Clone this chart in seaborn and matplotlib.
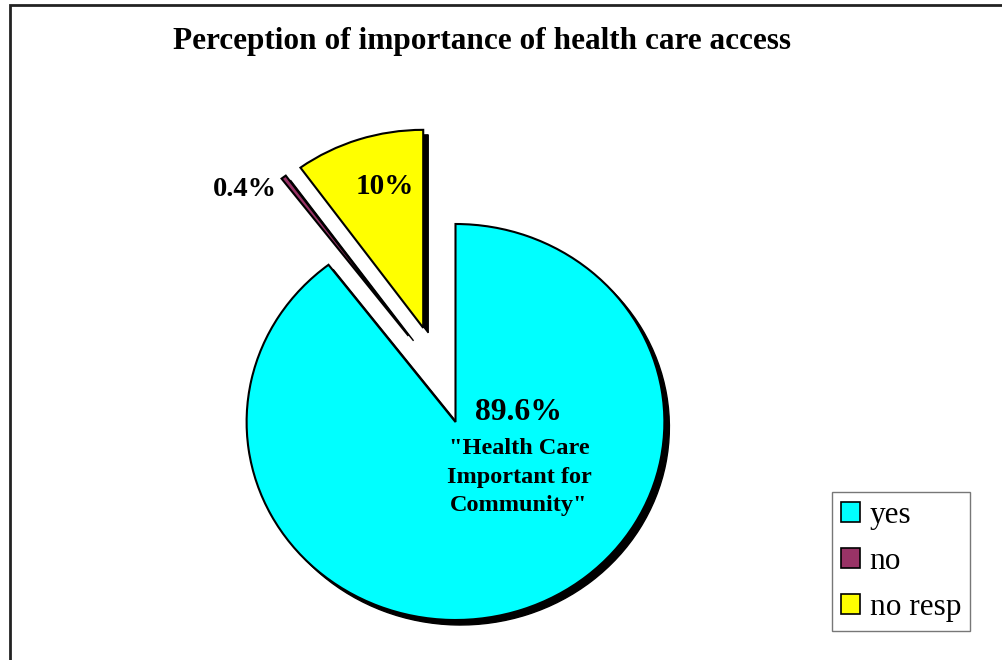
import matplotlib
matplotlib.use('Agg')
import matplotlib.pyplot as plt
import seaborn as sns
from matplotlib.patches import Rectangle

categories = ['yes', 'no', 'no resp']
values = [89.6, 0.4, 10.0]
pct_labels = ['89.6%', '0.4%', '10%']
colors = ['#00FFFF', '#993366', '#FFFF00']
explode_frac = [0, 0.48, 0.5]
title = 'Perception of importance of health care access'
yes_note = '"Health Care\nImportant for\nCommunity"'

sns.set_theme(style='white')
plt.rcParams['font.family'] = ['Liberation Serif', 'DejaVu Serif']
plt.rcParams['text.color'] = 'black'

W, H = 1002, 660
fig = plt.figure(figsize=(W / 100, H / 100), dpi=100)
ax = fig.add_axes([0, 0, 1, 1])
SX = 1.055


def P(x, y):
    return (x / SX, H - y)


cx, cy = P(455.5, 422)
R = 198
explode = [e * R for e in explode_frac]
# small sideways nudge of the thin "no" slice (pixels), as in the original layout
nudge = {1: (13.0, -10.0)}

# shadow
shadow, _ = ax.pie(values, explode=explode, colors=['black'] * 3, startangle=90,
                   counterclock=False, radius=R, center=(cx + 5 / SX, cy - 5),
                   wedgeprops=dict(edgecolor='black', linewidth=1.0))
wedges, _ = ax.pie(values, explode=explode, colors=colors, startangle=90,
                   counterclock=False, radius=R, center=(cx, cy),
                   wedgeprops=dict(edgecolor='black', linewidth=1.5))
for i, (dx, dy) in nudge.items():
    for w in (shadow[i], wedges[i]):
        x0, y0 = w.center
        w.set_center((x0 + dx / SX, y0 - dy))

ax.set_aspect('auto')
ax.set_xlim(0, W / SX)
ax.set_ylim(0, H)
ax.axis('off')

bold = dict(ha='center', va='center', weight='bold', color='black')
ax.text(*P(519, 412), pct_labels[0], fontsize=22.8, **bold)
ax.text(*P(519, 477), yes_note, fontsize=17.5, linespacing=1.5, **bold)
ax.text(*P(245, 190), pct_labels[1], fontsize=20.5, **bold)
ax.text(*P(385, 186), pct_labels[2], fontsize=21, **bold)

fig.text(482 / W, 1 - 41 / H, title, ha='center', va='center',
         fontsize=22.5, weight='bold', color='black')

fig.add_artist(Rectangle((10 / W, -0.1), 1.2, 1.1 - 5 / H,
                         transform=fig.transFigure, fill=False,
                         lw=2, edgecolor='#222222'))

leg = ax.legend(wedges, categories, loc='upper left',
                bbox_to_anchor=(832 / W, 1 - 492 / H),
                bbox_transform=fig.transFigure, borderaxespad=0,
                fancybox=False, frameon=True, edgecolor='#555555',
                fontsize=22.5, handlelength=0.6, handleheight=0.6,
                handletextpad=0.32, labelspacing=0.55, borderpad=0.28)
leg.get_frame().set_linewidth(1.0)
for t in leg.get_texts():
    t.set_color('black')
for h in leg.get_patches():
    h.set_edgecolor('black')
    h.set_linewidth(1.2)

fig.savefig('out.png', dpi=100)
